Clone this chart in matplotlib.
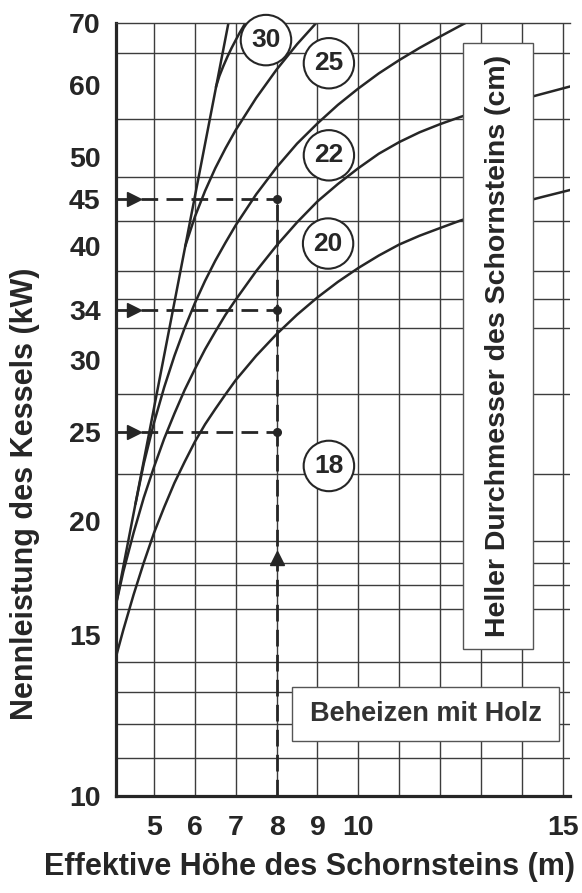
import matplotlib
matplotlib.use("Agg")
import matplotlib.pyplot as plt
from matplotlib.patches import Rectangle
from matplotlib.ticker import FixedLocator, NullFormatter

# chimney height (m) vs boiler output (kW), log y
x_ticks = [5, 6, 7, 8, 9, 10, 11, 12, 13, 14, 15]
x_ticklabels = ['5', '6', '7', '8', '9', '10', '', '', '', '', '15']
y_ticks = [10, 15, 20, 25, 30, 34, 40, 45, 50, 60, 70]
grid_y = [11, 12, 13, 14, 15, 16, 17, 18, 19, 20, 22.5, 25, 27.5, 30, 32.5,
          35, 37.5, 40, 42.5, 45, 47.5, 50, 55, 60, 65, 70]

# limit line (straight on the log scale)
limit_x = [4.07, 6.82]
limit_y = [16.2, 70.0]

# chimney diameter curves (cm)
d30_x = [6.52, 6.6, 6.7, 6.8, 6.9, 7.0, 7.1, 7.2, 7.3]
d30_y = [59.7, 61.3, 62.9, 64.4, 65.8, 67.1, 68.4, 69.6, 70.8]

d25_x = [5.77, 6.0, 6.25, 6.5, 6.75, 7.0, 7.5, 8.0, 8.5, 9.0]
d25_y = [40.0, 43.0, 45.9, 48.6, 51.1, 53.5, 58.0, 62.3, 66.4, 70.3]

d22_x = [4.55, 4.75, 5.0, 5.25, 5.5, 5.75, 6.0, 6.25, 6.5, 6.75, 7.0, 7.5, 8.0,
         8.5, 9.0, 9.5, 10.0, 10.5, 11.0, 11.5, 12.0, 12.5, 12.8]
d22_y = [20.9, 23.1, 25.6, 28.0, 30.3, 32.5, 34.6, 36.6, 38.5, 40.3, 42.1, 45.5, 48.7,
         51.7, 54.4, 57.0, 59.4, 61.7, 63.8, 65.8, 67.7, 69.6, 70.7]

d20_x = [4.07, 4.25, 4.5, 4.75, 5.0, 5.25, 5.5, 5.75, 6.0, 6.25, 6.5, 6.75, 7.0,
         7.5, 8.0, 8.5, 9.0, 9.5, 10.0, 10.5, 11.0, 11.5, 12.0, 12.5, 13.0, 13.5,
         14.0, 14.5, 15.18]
d20_y = [16.2, 17.6, 19.4, 21.2, 22.9, 24.6, 26.2, 27.8, 29.3, 30.8, 32.2, 33.6, 34.9,
         37.5, 40.0, 42.4, 44.7, 46.7, 48.6, 50.4, 51.9, 53.2, 54.3, 55.3, 56.2, 57.0,
         57.8, 58.6, 59.7]

d18_x = [4.07, 4.25, 4.5, 4.75, 5.0, 5.25, 5.5, 5.75, 6.0, 6.25, 6.5, 6.75, 7.0,
         7.5, 8.0, 8.5, 9.0, 9.5, 10.0, 10.5, 11.0, 11.5, 12.0, 12.5, 13.0, 13.5,
         14.0, 14.5, 15.18]
d18_y = [14.2, 15.2, 16.6, 18.0, 19.4, 20.7, 22.0, 23.2, 24.4, 25.5, 26.5, 27.5, 28.5,
         30.3, 32.0, 33.6, 35.1, 36.5, 37.8, 39.0, 40.1, 41.0, 41.8, 42.6, 43.3, 44.0,
         44.6, 45.2, 46.0]

# worked example
example_height = 8
example_kw = [25, 34, 45]

INK = '#262626'
GRID = '#3c3c3c'

plt.rcParams['font.family'] = ['Liberation Sans', 'DejaVu Sans']
plt.rcParams['font.weight'] = 'bold'
plt.rcParams['text.color'] = INK

fig = plt.figure(figsize=(5.82, 8.93), dpi=100)
ax = fig.add_axes([116 / 582, 1 - 796 / 893, 454 / 582, 772.7 / 893])
ax.set_yscale('log')
x0, x1 = 4.07, 15.18
ax.set_xlim(x0, x1)
ax.set_ylim(10, 70)

ax.set_xticks(x_ticks)
ax.set_xticklabels(x_ticklabels)
ax.set_yticks(y_ticks)
ax.set_yticklabels([str(v) for v in y_ticks])
ax.yaxis.set_minor_locator(FixedLocator(grid_y))
ax.yaxis.set_minor_formatter(NullFormatter())
ax.tick_params(which='both', length=0, colors=INK)
ax.tick_params(axis='y', pad=11, labelsize=20.5)
ax.tick_params(axis='x', pad=14, labelsize=20.5)
ax.grid(which='minor', axis='y', color=GRID, lw=1.0)
ax.grid(which='major', axis='x', color=GRID, lw=1.0)
ax.set_axisbelow(True)

ax.spines['right'].set_visible(False)
ax.spines['top'].set_color(GRID)
ax.spines['top'].set_linewidth(1.0)
for s in ['left', 'bottom']:
    ax.spines[s].set_linewidth(2.3)
    ax.spines[s].set_color(INK)

lw = 1.8
ax.plot(limit_x, limit_y, color=INK, lw=lw)
for xs, ys in [(d30_x, d30_y), (d25_x, d25_y), (d22_x, d22_y), (d20_x, d20_y), (d18_x, d18_y)]:
    ax.plot(xs, ys, color=INK, lw=lw, solid_joinstyle='round')

dash = (0, (6, 3))
for kw in example_kw:
    ax.plot([x0, example_height], [kw, kw], color=INK, lw=2, ls=dash)
    ax.plot(4.5, kw, marker='>', ms=10, color=INK, mec=INK)
    ax.plot(example_height, kw, marker='o', ms=5.5, color=INK)
ax.plot([example_height, example_height], [10, max(example_kw)], color=INK, lw=2, ls=dash)
ax.plot(example_height, 18.2, marker='^', ms=10, color=INK)

# diameter labels
labels = [('30', 7.74, 67.1), ('25', 9.28, 63.3), ('22', 9.28, 50.2),
          ('20', 9.26, 40.2), ('18', 9.28, 22.96)]
for t, lx, ly in labels:
    ax.text(lx, ly, t, ha='center', va='center', fontsize=19, zorder=6,
            bbox=dict(boxstyle='circle,pad=0.4', fc='white', ec=INK, lw=1.5))

ax.add_patch(Rectangle((0.765, 0.190), 0.154, 0.784, transform=ax.transAxes,
                       fc='white', ec='#555555', lw=1.0, zorder=5))
ax.text(0.842, 0.583, 'Heller Durchmesser des Schornsteins (cm)', transform=ax.transAxes,
        rotation=90, ha='center', va='center', fontsize=20.5, zorder=6)

ax.add_patch(Rectangle((0.388, 0.071), 0.588, 0.0705, transform=ax.transAxes,
                       fc='white', ec='#555555', lw=1.0, zorder=5))
ax.text(0.682, 0.106, 'Beheizen mit Holz', transform=ax.transAxes,
        ha='center', va='center', fontsize=19.5, zorder=6, color='#333333')

fig.text(25 / 582, 1 - 494 / 893, 'Nennleistung des Kessels (kW)', rotation=90,
         ha='center', va='center', fontsize=22)
fig.text(310 / 582, 1 - 867 / 893, 'Effektive Höhe des Schornsteins (m)',
         ha='center', va='center', fontsize=22)

fig.savefig('out.png', dpi=100)
